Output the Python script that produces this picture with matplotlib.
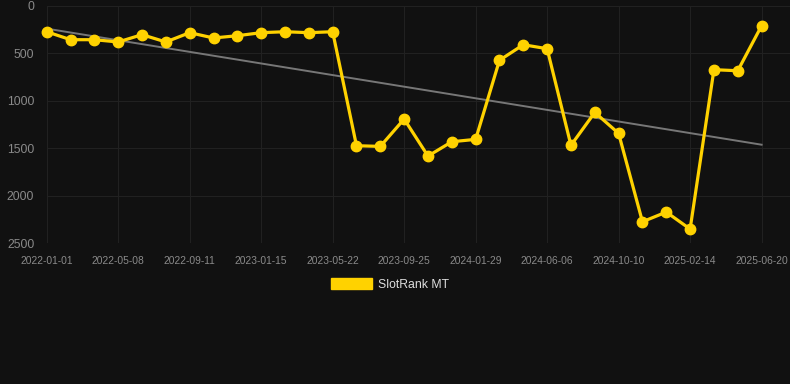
import matplotlib
matplotlib.use("Agg")
import matplotlib.pyplot as plt
from matplotlib.patches import Patch
import numpy as np

plt.rcParams['font.family'] = ['Liberation Sans', 'DejaVu Sans']

dates = ["2022-01-01", "2022-02-12", "2022-03-26", "2022-05-08", "2022-06-19",
         "2022-07-31", "2022-09-11", "2022-10-23", "2022-12-04", "2023-01-15",
         "2023-02-26", "2023-04-09", "2023-05-22", "2023-07-03", "2023-08-14",
         "2023-09-25", "2023-11-06", "2023-12-18", "2024-01-29", "2024-03-11",
         "2024-04-23", "2024-06-06", "2024-07-18", "2024-08-29", "2024-10-10",
         "2024-11-21", "2025-01-02", "2025-02-14", "2025-03-28", "2025-05-09",
         "2025-06-20"]
rank = [271, 355, 355, 379, 302, 379, 281, 337, 313, 281,
        271, 281, 271, 1472, 1479, 1191, 1581, 1430, 1405, 572,
        408, 450, 1468, 1121, 1342, 2273, 2171, 2350, 671, 682,
        208]
series_name = "SlotRank MT"
y_ticks = [0, 500, 1000, 1500, 2000, 2500]

bg = "#111111"
gold = "#FFD200"
fig = plt.figure(figsize=(7.9, 3.84), dpi=100, facecolor=bg)
ax = fig.add_axes([46.7 / 790, 1 - 243.3 / 384, 1 - 46.7 / 790, (243.3 - 6) / 384])
ax.set_facecolor(bg)

x = np.arange(len(dates))
coef = np.polyfit(x, rank, 1)
trend = np.polyval(coef, x)
ax.plot(x, trend, color="#777777", lw=1.4, zorder=2)
ax.plot(x, rank, color=gold, lw=2.3, marker="o", ms=7.5, zorder=3, clip_on=False)

ax.set_xlim(0, (790 - 46.7) / 23.83)
ax.set_ylim(2500, 0)
ax.set_yticks(y_ticks)
ax.set_yticklabels([str(v) for v in y_ticks])
tick_idx = list(range(0, len(dates), 3))
ax.set_xticks(tick_idx)
ax.set_xticklabels([dates[i] for i in tick_idx])

ax.grid(True, color="#212121", lw=0.8)
ax.set_axisbelow(True)
for s in ax.spines.values():
    s.set_visible(False)
ax.tick_params(axis="y", length=0, pad=9, labelsize=8.8, labelcolor="#8a8a8a")
ax.tick_params(axis="x", length=0, pad=9, labelsize=7.4, labelcolor="#8a8a8a")

handle = Patch(facecolor=gold, edgecolor=gold)
fig.legend([handle], [series_name], loc="center", bbox_to_anchor=(0.494, 1 - 284.5 / 384),
           frameon=False, fontsize=8.8, labelcolor="#dddddd",
           handlelength=3.3, handleheight=0.9, handletextpad=0.55)

fig.savefig("out.png", dpi=100, facecolor=bg)
